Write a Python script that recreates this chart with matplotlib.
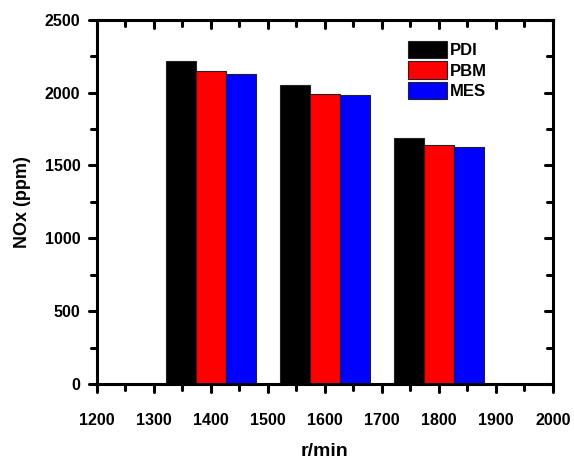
import numpy as np
import matplotlib
matplotlib.use("Agg")
import matplotlib.pyplot as plt
from matplotlib.ticker import MultipleLocator
from matplotlib.markers import MarkerStyle

plt.rcParams['font.family'] = ['Liberation Sans', 'DejaVu Sans']
plt.rcParams['font.weight'] = 'bold'

# Données
speeds = [1400, 1600, 1800]
series = ["PDI", "PBM", "MES"]
pdi = [2220, 2050, 1688]
pbm = [2152, 1990, 1640]
mes = [2127, 1985, 1628]
colors = ["black", "red", "blue"]

fig = plt.figure(figsize=(5.74, 4.61), dpi=100)
ax = fig.add_axes([0.169, 0.167, 0.794, 0.790])

width = 53
x = np.array(speeds)
for i, (vals, name, c) in enumerate(zip([pdi, pbm, mes], series, colors)):
    ax.bar(x + (i - 1) * width, vals, width=width, color=c, edgecolor="#222222",
           linewidth=0.8, label=name)

ax.set_xlim(1200, 2000)
ax.set_ylim(0, 2500)
ax.xaxis.set_major_locator(MultipleLocator(100))
ax.xaxis.set_minor_locator(MultipleLocator(50))
ax.yaxis.set_major_locator(MultipleLocator(500))
ax.yaxis.set_minor_locator(MultipleLocator(250))

for s in ax.spines.values():
    s.set_linewidth(2.2)

ax.tick_params(which='major', direction='out', length=6, width=2.2, labelsize=11.5, pad=6)
ax.tick_params(which='minor', direction='out', length=4, width=2.2)
ax.tick_params(axis='x', which='major', pad=15)
ax.tick_params(top=True, right=True, which='both')

# graduations : bas/gauche vers l'extérieur, haut/droite vers l'intérieur, bouts arrondis
for t in ax.xaxis.get_major_ticks() + ax.xaxis.get_minor_ticks():
    t.tick1line.set_marker(MarkerStyle(3, capstyle='round'))
    t.tick2line.set_marker(MarkerStyle(3, capstyle='round'))
for t in ax.yaxis.get_major_ticks() + ax.yaxis.get_minor_ticks():
    t.tick1line.set_marker(MarkerStyle(0, capstyle='round'))
    t.tick2line.set_marker(MarkerStyle(0, capstyle='round'))

for lab in ax.get_xticklabels() + ax.get_yticklabels():
    lab.set_fontweight('bold')

ax.set_xlabel("r/min", fontsize=14, fontweight='bold', labelpad=11)
ax.set_ylabel("NOx (ppm)", fontsize=13, fontweight='bold', labelpad=10)

leg = ax.legend(loc='upper left', bbox_to_anchor=(0.682, 0.942), frameon=False,
                fontsize=12, handlelength=2.35, handleheight=1.2,
                handletextpad=0.15, labelspacing=0.2, borderaxespad=0, borderpad=0)
for txt in leg.get_texts():
    txt.set_fontweight('bold')

fig.savefig("out.png", dpi=100)
